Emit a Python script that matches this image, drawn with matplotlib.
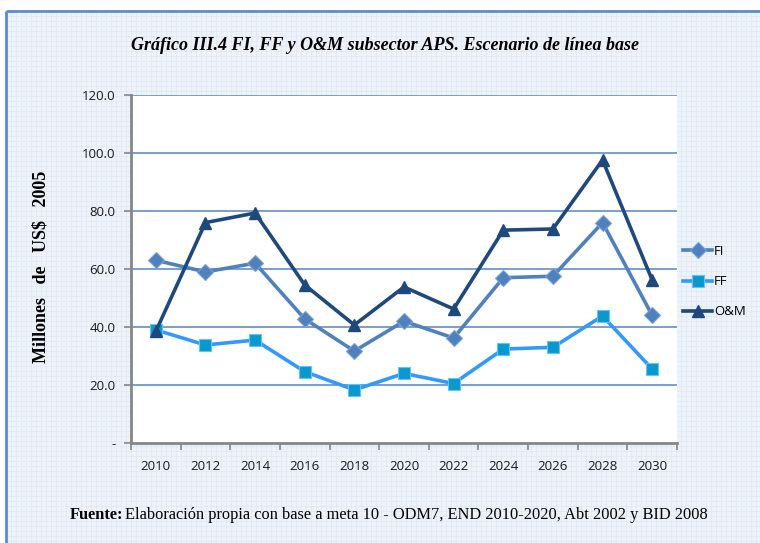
import matplotlib
matplotlib.use("Agg")
import matplotlib.pyplot as plt
import numpy as np

years = ["2010", "2012", "2014", "2016", "2018", "2020", "2022", "2024", "2026", "2028", "2030"]
fi = [63.0, 59.0, 62.0, 42.8, 31.7, 42.0, 36.2, 57.0, 57.5, 76.0, 44.0]
ff = [39.0, 33.8, 35.5, 24.6, 18.3, 24.0, 20.5, 32.4, 33.0, 43.8, 25.5]
om = [38.5, 76.0, 79.3, 54.5, 40.7, 53.8, 46.2, 73.4, 73.8, 97.6, 56.2]
y_ticks = [0, 20, 40, 60, 80, 100, 120]
y_ticklabels = ["-", "20.0", "40.0", "60.0", "80.0", "100.0", "120.0"]

W, H = 760, 543
fig = plt.figure(figsize=(W / 100, H / 100), dpi=100)

# background with fine grid pattern
bg = fig.add_axes([0, 0, 1, 1], zorder=-10)
bg.set_xlim(0, W)
bg.set_ylim(H, 0)
bg.axis("off")
bg.add_patch(plt.Rectangle((0, 0), W, H, color="white", zorder=0))
bg.add_patch(plt.Rectangle((6, 11), W, H, color="#eef3fa", zorder=1))
for gx in np.arange(6, W, 5):
    bg.plot([gx, gx], [11, H], color="#dde7f3", lw=0.5, zorder=2)
for gy in np.arange(11, H, 5):
    bg.plot([6, W], [gy, gy], color="#dde7f3", lw=0.5, zorder=2)
bg.plot([6, 6], [11, H], color="#5b8bd0", lw=2.0, zorder=3, solid_capstyle="butt")
bg.plot([6, W], [11, 11], color="#5b8bd0", lw=2.0, zorder=3, solid_capstyle="butt")

ax = fig.add_axes([131 / W, 1 - 443 / H, (677 - 131) / W, (443 - 95) / H])
ax.set_facecolor("white")
x = np.arange(len(years))

ax.plot(x, fi, color="#4f81bd", lw=2.6, marker="D", markersize=8,
        markerfacecolor="#4f81bd", markeredgecolor="#7aa1d2", markeredgewidth=0.8, label="FI", zorder=3)
ax.plot(x, ff, color="#3399ff", lw=2.6, marker="s", markersize=9,
        markerfacecolor="#0a99cc", markeredgecolor="#66c2ff", markeredgewidth=0.8, label="FF", zorder=3)
ax.plot(x, om, color="#1f497d", lw=2.6, marker="^", markersize=9,
        markerfacecolor="#1f497d", markeredgecolor="#1f497d", label="O&M", zorder=4)

ax.set_xlim(-0.5, len(years) - 0.5)
ax.set_ylim(0, 120)
ax.set_yticks(y_ticks)
ax.set_yticklabels(y_ticklabels)
ax.set_xticks(x)
ax.set_xticklabels(years)
ax.set_xticks(np.arange(-0.5, len(years), 1.0), minor=True)
ax.tick_params(axis="x", which="major", length=0, pad=12)
ax.tick_params(axis="x", which="minor", length=5, width=1.2, color="#868686", direction="out")
ax.tick_params(axis="y", length=5, width=1.2, color="#868686", direction="out", pad=6)
for lab in ax.get_xticklabels() + ax.get_yticklabels():
    lab.set_fontfamily("Open Sans")
    lab.set_fontsize(9.5)
    lab.set_color("#1a1a1a")

for yv in y_ticks[1:]:
    ax.axhline(yv, color="#6f96c9", lw=1.3, zorder=1)
for s in ["top", "right"]:
    ax.spines[s].set_visible(False)
ax.spines["left"].set_color("#868686")
ax.spines["left"].set_linewidth(2)
ax.spines["bottom"].set_color("#868686")
ax.spines["bottom"].set_linewidth(2)

fig.text(41 / W, 1 - 267 / H, "Millones   de   US$   2005", rotation=90, ha="center", va="center",
         family="Liberation Serif", fontweight="bold", fontsize=13)

leg = fig.legend(loc="upper left", bbox_to_anchor=(683 / W, 1 - 245 / H), frameon=False,
                 handlelength=2.2, labelspacing=1.3, handletextpad=0.15, borderpad=0,
                 borderaxespad=0, prop={"family": "Open Sans", "size": 9.5})

fig.text(385 / W, 1 - 45 / H, "Gráfico III.4 FI, FF y O&M subsector APS. Escenario de línea base",
         ha="center", va="center", family="Liberation Serif", style="italic", fontweight="bold",
         fontsize=13)

fig.text(123 / W, 1 - 515 / H, "Fuente:", ha="right", va="center", family="Liberation Serif",
         fontweight="bold", fontsize=11.8)
fig.text(125 / W, 1 - 515 / H,
         "Elaboración propia con base a meta 10 - ODM7, END 2010-2020, Abt 2002 y BID 2008",
         ha="left", va="center", family="Liberation Serif", fontsize=11.8)

fig.savefig("out.png", dpi=100)
